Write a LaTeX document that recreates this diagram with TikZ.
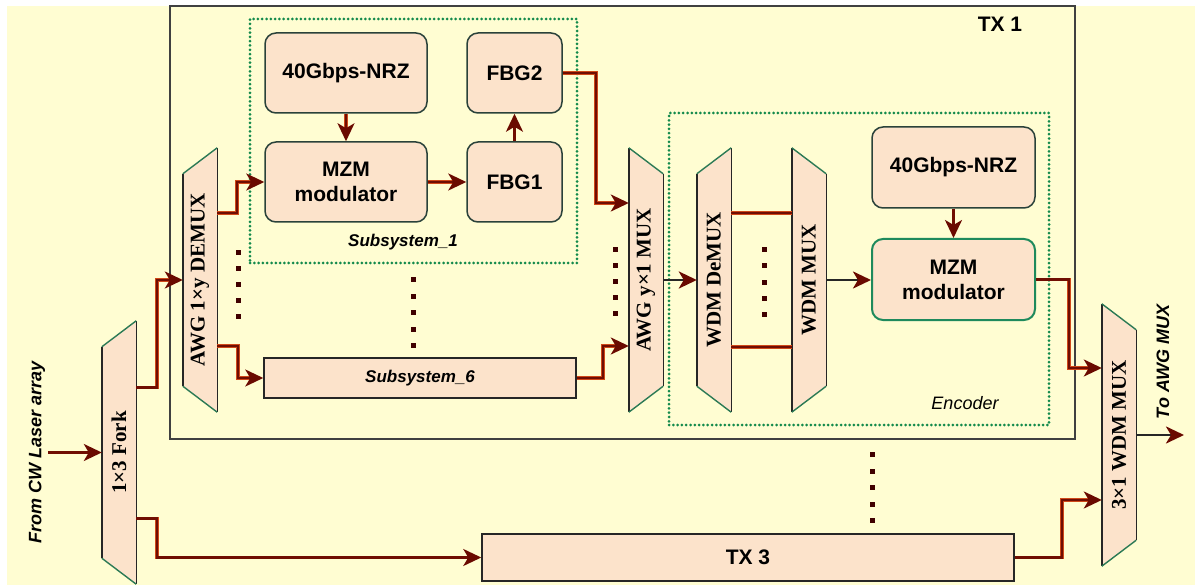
\documentclass[tikz,border=0pt]{standalone}
\usepackage{fontspec}
\setmainfont{Liberation Serif}
\newfontfamily\arialf{Liberation Sans}
\usetikzlibrary{arrows.meta,calc}
\definecolor{bgyellow}{HTML}{FFFDD2}
\definecolor{peach}{HTML}{FCE3CB}
\definecolor{boxedge}{HTML}{2A423A}
\definecolor{boxedgeB}{HTML}{1E8A5C}
\definecolor{dotgreen}{HTML}{138A4C}
\definecolor{wirered}{HTML}{700E02}
\definecolor{wireglow}{HTML}{D04818}
\definecolor{tipred}{HTML}{6A0A00}
\definecolor{slantgreen}{HTML}{2C7A55}
\pgfdeclarelayer{bg}
\pgfsetlayers{bg,main}
\tikzset{
  rbox/.style={draw=boxedge, line width=1.5pt, fill=peach, rounded corners=11pt,
    font=\arialf\bfseries\fontsize{21}{25}\selectfont, align=center, inner sep=0pt},
  sbox/.style={draw=black!85, line width=1.5pt, fill=peach, inner sep=0pt},
  trap/.style={inner sep=0pt, minimum width=34pt, font=\bfseries\fontsize{21}{25}\selectfont},
  grp/.style={draw=dotgreen, line width=3pt, dash pattern=on 0pt off 4.3pt, line cap=round, inner sep=0pt},
  tipstyle/.style={-{Stealth[length=18pt,width=17pt,inset=5pt,color=tipred]}},
  wire/.style={draw=wirered, line width=2.4pt, preaction={draw=wireglow, line width=3.9pt, -}},
  awire/.style={draw=wirered, line width=2.4pt, preaction={draw=wireglow, line width=3.9pt, -, shorten >=10pt}, tipstyle},
  bwire/.style={draw=black!85, line width=2.8pt, tipstyle},
  vedge/.style={draw=black!85, line width=1.4pt},
  sedge/.style={draw=slantgreen, line width=1.4pt},
  dotmark/.style={fill=black!75!red},
  sanslbl/.style={font=\arialf\bfseries\fontsize{21}{25}\selectfont},
  itallbl/.style={font=\arialf\bfseries\itshape\fontsize{17}{20}\selectfont},
  sidelbl/.style={font=\arialf\bfseries\itshape\fontsize{18}{20}\selectfont, rotate=90}
}
% trapezoid whose left side is shorter
\newcommand{\trapNL}[1]{%
  \begin{pgfonlayer}{bg}
  \fill[peach] ($(#1.north west)+(0,26)$) -- (#1.north east) -- (#1.south east) -- ($(#1.south west)+(0,-26)$) -- cycle;
  \draw[vedge] ($(#1.north west)+(0,26)$) -- ($(#1.south west)+(0,-26)$);
  \draw[vedge] (#1.north east) -- (#1.south east);
  \draw[sedge] ($(#1.north west)+(0,26)$) -- (#1.north east);
  \draw[sedge] ($(#1.south west)+(0,-26)$) -- (#1.south east);
  \end{pgfonlayer}}
% trapezoid whose right side is shorter
\newcommand{\trapNR}[1]{%
  \begin{pgfonlayer}{bg}
  \fill[peach] (#1.north west) -- ($(#1.north east)+(0,26)$) -- ($(#1.south east)+(0,-26)$) -- (#1.south west) -- cycle;
  \draw[vedge] (#1.north west) -- (#1.south west);
  \draw[vedge] ($(#1.north east)+(0,26)$) -- ($(#1.south east)+(0,-26)$);
  \draw[sedge] (#1.north west) -- ($(#1.north east)+(0,26)$);
  \draw[sedge] (#1.south west) -- ($(#1.south east)+(0,-26)$);
  \end{pgfonlayer}}
\begin{document}
\begin{tikzpicture}[x=1pt,y=-1pt]
\useasboundingbox (0,0) rectangle (1197,588);
\begin{pgfonlayer}{bg}
  \fill[white] (0,0) rectangle (1197,588);
  \fill[bgyellow] (7,6) rectangle (1195,585);
\end{pgfonlayer}

% group frames
\node[draw=black!75, line width=1.5pt, minimum width=905pt, minimum height=433pt, inner sep=0pt] (tx1) at (622.5,222.5) {};
\node[sanslbl] (tx1lbl) at (1000,24) {TX 1};
\node[grp, minimum width=327pt, minimum height=244pt] (sub1) at (413.5,141) {};
\node[itallbl] (sub1lbl) at (403,242) {Subsystem\_1};
\node[grp, minimum width=380pt, minimum height=312pt] (enc) at (859,269) {};
\node[font=\arialf\itshape\fontsize{18}{20}\selectfont] (enclbl) at (965,403) {Encoder};

% blocks
\node[rbox, minimum width=162pt, minimum height=80pt] (nrzA) at (346,73) {40Gbps-NRZ};
\node[rbox, minimum width=162pt, minimum height=80pt] (mzmA) at (346,182) {MZM\\modulator};
\node[rbox, minimum width=95pt, minimum height=80pt] (fbg2) at (514.5,73) {FBG2};
\node[rbox, minimum width=95pt, minimum height=80pt] (fbg1) at (514.5,182) {FBG1};
\node[sbox, minimum width=312pt, minimum height=40pt, itallbl] (sub6) at (420,378) {Subsystem\_6};
\node[sbox, minimum width=532pt, minimum height=47pt, sanslbl] (tx3) at (748,557.5) {TX 3};
\node[rbox, minimum width=163pt, minimum height=81pt] (nrzB) at (953.5,167.5) {40Gbps-NRZ};
\node[rbox, draw=boxedgeB, line width=2pt, minimum width=163pt, minimum height=81pt] (mzmB) at (953.5,279.5) {MZM\\modulator};

% trapezoids
\node[trap, minimum height=263pt] (fork) at (119,452.5) {\rotatebox{90}{1×3 Fork}};
\trapNL{fork}
\node[trap, minimum height=264pt] (demux) at (200,280) {\rotatebox{90}{AWG 1×y DEMUX}};
\trapNL{demux}
\node[trap, minimum height=264pt] (awgmux) at (646,280) {\rotatebox{90}{AWG y×1 MUX}};
\trapNR{awgmux}
\node[trap, minimum height=264pt] (wdmdemux) at (714,280) {\rotatebox{90}{WDM DeMUX}};
\trapNL{wdmdemux}
\node[trap, minimum height=264pt] (wdmmux) at (809,280) {\rotatebox{90}{WDM MUX}};
\trapNR{wdmmux}
\node[trap, minimum height=262pt] (mux3) at (1119,435) {\rotatebox{90}{3×1 WDM MUX}};
\trapNR{mux3}

% side labels
\node[sidelbl] (cwlbl) at (37,452) {From CW Laser array};
\node[sidelbl] (tolbl) at (1163,362) {To AWG MUX};
\coordinate (cwin) at (48,452.5);
\coordinate (out) at (1184,435);

% connectors
\draw[awire] (cwin) -- (fork.west);
\draw[awire] ([yshift=65pt]fork.east) -- ++(21,0) |- (demux.west);
\draw[awire] ([yshift=-66pt]fork.east) -- ++(21,0) |- (tx3.west);
\draw[awire] ([yshift=67pt]demux.east) -- ++(20,0) |- (mzmA.west);
\draw[awire] ([yshift=-66pt]demux.east) -- ++(21,0) |- (sub6.west);
\draw[awire] (nrzA.south) -- (mzmA.north);
\draw[awire] (mzmA.east) -- (fbg1.west);
\draw[awire] (fbg1.north) -- (fbg2.south);
\draw[awire] (fbg2.east) -- ++(33,0) |- ([yshift=77pt]awgmux.west);
\draw[awire] (sub6.east) -- ++(26,0) |- ([yshift=-66pt]awgmux.west);
\draw[bwire] (awgmux.east) -- (wdmdemux.west);
\draw[wire] ([yshift=67pt]wdmdemux.east) -- ([yshift=67pt]wdmmux.west);
\draw[wire] ([yshift=-67pt]wdmdemux.east) -- ([yshift=-67pt]wdmmux.west);
\draw[bwire] (wdmmux.east) -- (wdmmux.east -| mzmB.west);
\draw[awire] (nrzB.south) -- (mzmB.north);
\draw[awire] (mzmB.east) -- ++(33,0) |- ([yshift=67pt]mux3.west);
\draw[awire] (tx3.east) -- ++(47,0) |- ([yshift=-65pt]mux3.west);
\draw[bwire] (mux3.east) -- (out);

% ellipsis dots
\foreach \yy in {250,266,282,298,314} \fill[dotmark] (235.5,\yy) rectangle +(5,5);
\foreach \yy in {277,293.5,310,326.5,343} \fill[dotmark] (410.5,\yy) rectangle +(5,5);
\foreach \yy in {247,263,279,295,311} \fill[dotmark] (612.5,\yy) rectangle +(5,5);
\foreach \yy in {247,263,279.5,296,312} \fill[dotmark] (761.5,\yy) rectangle +(5,5);
\foreach \yy in {452,468.5,485,501.5,518} \fill[dotmark] (869.5,\yy) rectangle +(5,5);
\end{tikzpicture}
\end{document}
